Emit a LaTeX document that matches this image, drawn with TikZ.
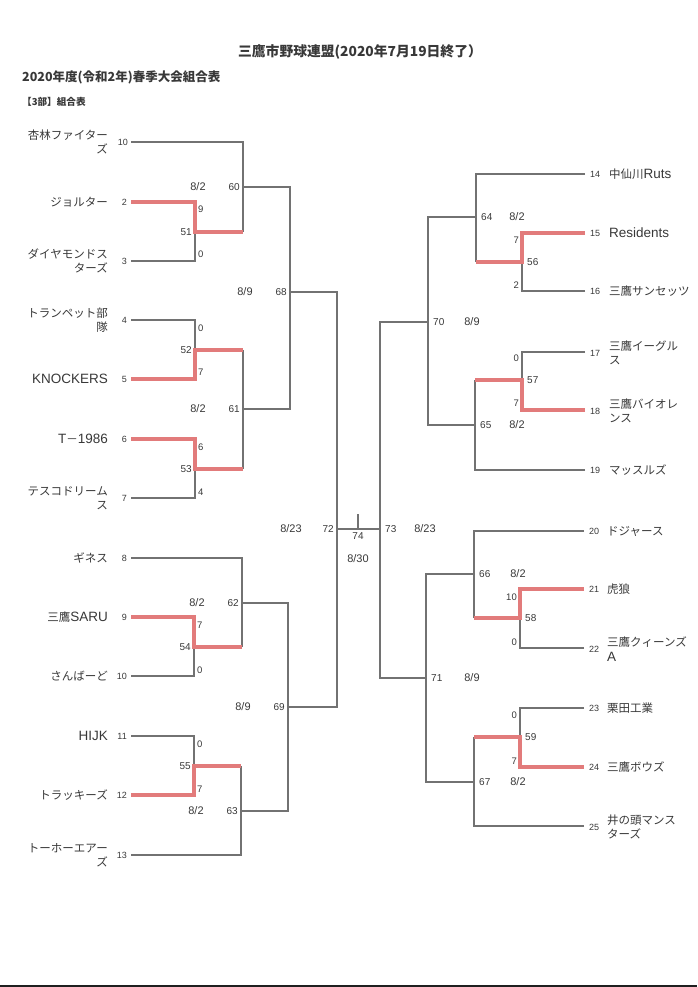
\documentclass[tikz,border=0pt]{standalone}
\usepackage{fontspec}
\setmainfont{Noto Sans CJK JP}
\newfontfamily\latf{Liberation Sans}
\usetikzlibrary{positioning}

\definecolor{lineg}{HTML}{727272}
\definecolor{winred}{HTML}{E27B7B}
\definecolor{inkg}{HTML}{383838}

\newcommand{\latn}[1]{{\latf\fontsize{13.5}{14.5}\selectfont #1}}

\tikzset{
  game/.style={draw=lineg, line width=1.3pt},
  win/.style={draw=winred, line width=3.3pt},
  team/.style={inner sep=0pt, text=inkg, font=\fontsize{11.5}{14.5}\selectfont},
  seed/.style={inner sep=0pt, text=inkg, font=\latf\fontsize{9}{10}\selectfont},
  pts/.style={inner sep=0pt, text=inkg, font=\latf\fontsize{9.5}{10}\selectfont},
  gameno/.style={inner sep=0pt, text=inkg, font=\latf\fontsize{10}{11}\selectfont},
  day/.style={inner sep=0pt, text=inkg, font=\latf\fontsize{11}{12}\selectfont},
  head/.style={inner sep=0pt, text=inkg, font=\bfseries\fontsize{13.8}{16}\selectfont},
}

\begin{document}
\begin{tikzpicture}[x=1pt, y=-1pt]
  \useasboundingbox (0,0) rectangle (697,987);
  \fill[black!88] (0,985) rectangle (697,987);

  % headings
  \node[head] (title) at (360,52) {三鷹市野球連盟(2020年7月19日終了）};
  \node[head, anchor=west, font=\bfseries\fontsize{12.5}{15}\selectfont] (season) at (22,77) {2020年度(令和2年)春季大会組合表};
  \node[head, anchor=west, font=\bfseries\fontsize{9.6}{12}\selectfont] (division) at (22,102) {【3部】組合表};

  % left teams
  \node[team, anchor=east, align=right] (n1) at (108,142) {杏林ファイター\\ズ};
  \node[team, anchor=east] (n2) at (108,202) {ジョルター};
  \node[team, anchor=east, align=right] (n3) at (108,261) {ダイヤモンドス\\ターズ};
  \node[team, anchor=east, align=right] (n4) at (108,320) {トランペット部\\隊};
  \node[team, anchor=east] (n5) at (108,379) {\latn{KNOCKERS}};
  \node[team, anchor=east] (n6) at (108,439) {\latn{T}－\latn{1986}};
  \node[team, anchor=east, align=right] (n7) at (108,498) {テスコドリーム\\ス};
  \node[team, anchor=east] (n8) at (108,558) {ギネス};
  \node[team, anchor=east] (n9) at (108,617) {三鷹\latn{SARU}};
  \node[team, anchor=east] (n10) at (108,676) {さんばーど};
  \node[team, anchor=east] (n11) at (108,736) {\latn{HIJK}};
  \node[team, anchor=east] (n12) at (108,795) {トラッキーズ};
  \node[team, anchor=east, align=right] (n13) at (108,855) {トーホーエアー\\ズ};

  \node[seed, anchor=east] (k1) at (128,142) {10};
  \node[seed, anchor=east] (k2) at (127,202) {2};
  \node[seed, anchor=east] (k3) at (127,261) {3};
  \node[seed, anchor=east] (k4) at (127,320) {4};
  \node[seed, anchor=east] (k5) at (127,379) {5};
  \node[seed, anchor=east] (k6) at (127,439) {6};
  \node[seed, anchor=east] (k7) at (127,498) {7};
  \node[seed, anchor=east] (k8) at (127,558) {8};
  \node[seed, anchor=east] (k9) at (127,617) {9};
  \node[seed, anchor=east] (k10) at (127,676) {10};
  \node[seed, anchor=east] (k11) at (127,736) {11};
  \node[seed, anchor=east] (k12) at (127,795) {12};
  \node[seed, anchor=east] (k13) at (127,855) {13};

  % right teams
  \node[seed, anchor=west] (k14) at (590,174) {14};
  \node[seed, anchor=west] (k15) at (590,233) {15};
  \node[seed, anchor=west] (k16) at (590,291) {16};
  \node[seed, anchor=west] (k17) at (590,353) {17};
  \node[seed, anchor=west] (k18) at (590,411) {18};
  \node[seed, anchor=west] (k19) at (590,470) {19};
  \node[seed, anchor=west] (k20) at (589,531) {20};
  \node[seed, anchor=west] (k21) at (589,589) {21};
  \node[seed, anchor=west] (k22) at (589,649) {22};
  \node[seed, anchor=west] (k23) at (589,708) {23};
  \node[seed, anchor=west] (k24) at (589,767) {24};
  \node[seed, anchor=west] (k25) at (589,827) {25};

  \node[team, anchor=west] (n14) at (609,174) {中仙川\latn{Ruts}};
  \node[team, anchor=west] (n15) at (609,233) {\latn{Residents}};
  \node[team, anchor=west] (n16) at (609,291) {三鷹サンセッツ};
  \node[team, anchor=west, align=left] (n17) at (609,353) {三鷹イーグル\\ス};
  \node[team, anchor=west, align=left] (n18) at (609,411) {三鷹バイオレ\\ンス};
  \node[team, anchor=west] (n19) at (609,470) {マッスルズ};
  \node[team, anchor=west] (n20) at (607,531) {ドジャース};
  \node[team, anchor=west] (n21) at (607,589) {虎狼};
  \node[team, anchor=west, align=left] (n22) at (607,649) {三鷹クィーンズ\\\latn{A}};
  \node[team, anchor=west] (n23) at (607,708) {栗田工業};
  \node[team, anchor=west] (n24) at (607,767) {三鷹ボウズ};
  \node[team, anchor=west, align=left] (n25) at (607,827) {井の頭マンス\\ターズ};

  % line ends
  \coordinate (a1) at (131,142);
  \coordinate (a2) at (131,202);
  \coordinate (a3) at (131,261);
  \coordinate (a4) at (131,320);
  \coordinate (a5) at (131,379);
  \coordinate (a6) at (131,439);
  \coordinate (a7) at (131,498);
  \coordinate (a8) at (131,558);
  \coordinate (a9) at (131,617);
  \coordinate (a10) at (131,676);
  \coordinate (a11) at (131,736);
  \coordinate (a12) at (131,795);
  \coordinate (a13) at (131,855);
  \coordinate (b14) at (585,174);
  \coordinate (b15) at (585,233);
  \coordinate (b16) at (585,291);
  \coordinate (b17) at (585,352);
  \coordinate (b18) at (585,410);
  \coordinate (b19) at (585,470);
  \coordinate (b20) at (584,531);
  \coordinate (b21) at (584,589);
  \coordinate (b22) at (584,648);
  \coordinate (b23) at (584,708);
  \coordinate (b24) at (584,767);
  \coordinate (b25) at (584,826);

  % games
  \coordinate (m51) at (195,232);
  \coordinate (m52) at (195,350);
  \coordinate (m53) at (195,469);
  \coordinate (m54) at (194,647);
  \coordinate (m55) at (194,766);
  \coordinate (m60) at (243,187);
  \coordinate (m61) at (243,409);
  \coordinate (m62) at (242,603);
  \coordinate (m63) at (241,811);
  \coordinate (m68) at (290,292);
  \coordinate (m69) at (288,707);
  \coordinate (m72) at (337,529);
  \coordinate (m74) at (358,529);
  \coordinate (c74) at (358,514);
  \coordinate (m73) at (380,529);
  \coordinate (m70) at (428,322);
  \coordinate (m71) at (426,678);
  \coordinate (m64) at (476,217);
  \coordinate (m65) at (475,425);
  \coordinate (m66) at (474,574);
  \coordinate (m67) at (474,782);
  \coordinate (m56) at (522,262);
  \coordinate (m57) at (522,380);
  \coordinate (m58) at (520,618);
  \coordinate (m59) at (520,737);

  % left bracket
  \draw[game] (a1) -| (m60);
  \draw[game] (a3) -| (m51);
  \draw[game] (m51 -| m60) -- (m60);
  \draw[game] (m60) -| (m68);
  \draw[game] (a4) -| (m52);
  \draw[game] (a7) -| (m53);
  \draw[game] (m52 -| m61) -- (m53 -| m61);
  \draw[game] (m61) -| (m68);
  \draw[game] (m68) -| (m72);
  \draw[game] (a8) -| (m62);
  \draw[game] (a10) -| (m54);
  \draw[game] (m54 -| m62) -- (m62);
  \draw[game] (m62) -| (m69);
  \draw[game] (a11) -| (m55);
  \draw[game] (a13) -| (m63);
  \draw[game] (m55 -| m63) -- (m63);
  \draw[game] (m63) -| (m69);
  \draw[game] (m69) -| (m72);

  % final
  \draw[game] (m72) -- (m73);
  \draw[game] (m74) -- (c74);

  % right bracket
  \draw[game] (m70) -| (m73);
  \draw[game] (m71) -| (m73);
  \draw[game] (m64) -| (m70);
  \draw[game] (m65) -| (m70);
  \draw[game] (b14) -| (m64);
  \draw[game] (b16) -| (m56);
  \draw[game] (m56 -| m64) -- (m64);
  \draw[game] (b17) -| (m57);
  \draw[game] (b19) -| (m65);
  \draw[game] (m57 -| m65) -- (m65);
  \draw[game] (m66) -| (m71);
  \draw[game] (m67) -| (m71);
  \draw[game] (b20) -| (m66);
  \draw[game] (b22) -| (m58);
  \draw[game] (m58 -| m66) -- (m66);
  \draw[game] (b23) -| (m59);
  \draw[game] (b25) -| (m67);
  \draw[game] (m59 -| m67) -- (m67);

  % winners
  \draw[win] (a2) -| (m51) -- (m51 -| m60);
  \draw[win] (a5) -| (m52) -- (m52 -| m61);
  \draw[win] (a6) -| (m53) -- (m53 -| m61);
  \draw[win] (a9) -| (m54) -- (m54 -| m62);
  \draw[win] (a12) -| (m55) -- (m55 -| m63);
  \draw[win] (b15) -| (m56) -- (m56 -| m64);
  \draw[win] (b18) -| (m57) -- (m57 -| m65);
  \draw[win] (b21) -| (m58) -- (m58 -| m66);
  \draw[win] (b24) -| (m59) -- (m59 -| m67);

  % scores, left
  \node[pts, anchor=west] (p2) at (198,209) {9};
  \node[pts, anchor=west] (p3) at (198,254) {0};
  \node[pts, anchor=west] (p4) at (198,328) {0};
  \node[pts, anchor=west] (p5) at (198,372) {7};
  \node[pts, anchor=west] (p6) at (198,447) {6};
  \node[pts, anchor=west] (p7) at (198,492) {4};
  \node[pts, anchor=west] (p9) at (197,625) {7};
  \node[pts, anchor=west] (p10) at (197,670) {0};
  \node[pts, anchor=west] (p11) at (197,744) {0};
  \node[pts, anchor=west] (p12) at (197,789) {7};

  % scores, right
  \node[pts, anchor=east] (p15) at (519,240) {7};
  \node[pts, anchor=east] (p16) at (519,285) {2};
  \node[pts, anchor=east] (p17) at (519,358) {0};
  \node[pts, anchor=east] (p18) at (519,403) {7};
  \node[pts, anchor=east] (p21) at (517,597) {10};
  \node[pts, anchor=east] (p22) at (517,642) {0};
  \node[pts, anchor=east] (p23) at (517,715) {0};
  \node[pts, anchor=east] (p24) at (517,761) {7};

  % game numbers
  \node[gameno, left=3pt of m51] (g51) {51};
  \node[gameno, left=3pt of m52] (g52) {52};
  \node[gameno, left=3pt of m53] (g53) {53};
  \node[gameno, left=3pt of m54] (g54) {54};
  \node[gameno, left=3pt of m55] (g55) {55};
  \node[gameno, left=3pt of m60] (g60) {60};
  \node[gameno, left=3pt of m61] (g61) {61};
  \node[gameno, left=3pt of m62] (g62) {62};
  \node[gameno, left=3pt of m63] (g63) {63};
  \node[gameno, left=3pt of m68] (g68) {68};
  \node[gameno, left=3pt of m69] (g69) {69};
  \node[gameno, left=3pt of m72] (g72) {72};
  \node[gameno, below=3pt of m74] (g74) {74};
  \node[gameno, right=5pt of m73] (g73) {73};
  \node[gameno, right=5pt of m70] (g70) {70};
  \node[gameno, right=5pt of m71] (g71) {71};
  \node[gameno, right=5pt of m64] (g64) {64};
  \node[gameno, right=5pt of m65] (g65) {65};
  \node[gameno, right=5pt of m66] (g66) {66};
  \node[gameno, right=5pt of m67] (g67) {67};
  \node[gameno, right=5pt of m56] (g56) {56};
  \node[gameno, right=5pt of m57] (g57) {57};
  \node[gameno, right=5pt of m58] (g58) {58};
  \node[gameno, right=5pt of m59] (g59) {59};

  % dates
  \node[day] (d60) at (198,187) {8/2};
  \node[day] (d61) at (198,409) {8/2};
  \node[day] (d62) at (197,603) {8/2};
  \node[day] (d63) at (196,811) {8/2};
  \node[day] (d68) at (245,292) {8/9};
  \node[day] (d69) at (243,707) {8/9};
  \node[day] (d72) at (291,529) {8/23};
  \node[day] (d74) at (358,559) {8/30};
  \node[day] (d73) at (425,529) {8/23};
  \node[day] (d70) at (472,322) {8/9};
  \node[day] (d71) at (472,678) {8/9};
  \node[day] (d64) at (517,217) {8/2};
  \node[day] (d65) at (517,425) {8/2};
  \node[day] (d66) at (518,574) {8/2};
  \node[day] (d67) at (518,782) {8/2};
\end{tikzpicture}
\end{document}
